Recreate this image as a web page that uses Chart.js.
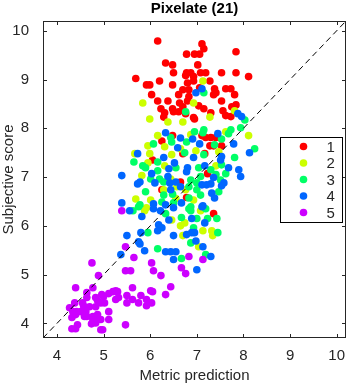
<!DOCTYPE html>
<html>
<head>
<meta charset="utf-8">
<script src="https://cdn.jsdelivr.net/npm/chart.js@4/dist/chart.umd.min.js"></script>
<style>
  html, body { margin: 0; padding: 0; background: #fff; }
  #c { display: block; }
</style>
</head>
<body>
<canvas id="c" width="351" height="385"></canvas>
<script>
// ===== Data =====
const titleText = 'Pixelate (21)';
const xLabel = 'Metric prediction';
const yLabel = 'Subjective score';
const axisMin = 3.7;
const axisMax = 10.2;
const xTicks = [4, 5, 6, 7, 8, 9, 10];
const yTicks = [4, 5, 6, 7, 8, 9, 10];
const seriesNames = ['1', '2', '3', '4', '5'];
const seriesColors = ['#FF0000', '#CCFF00', '#00FF66', '#0066FF', '#CC00FF'];

// [metric prediction, subjective score]
const s1 = [
  [6.16,9.79],[7.11,9.73],[7.15,9.63],[7.84,9.57],[6.78,9.52],[6.95,9.52],[7.06,9.52],[6.33,9.34],
  [6.48,9.30],[7.02,9.30],[6.50,9.14],[6.78,9.14],[6.87,9.14],[7.08,9.14],[7.19,9.14],[7.53,9.14],
  [7.84,9.14],[6.76,9.08],[6.93,9.06],[5.69,9.02],[5.92,8.89],[5.99,8.89],[6.20,8.97],[6.48,8.89],
  [6.80,8.93],[6.93,8.97],[7.28,8.97],[8.11,9.06],[6.70,8.79],[6.83,8.79],[7.06,8.83],[7.38,8.81],
  [7.62,8.81],[7.73,8.81],[6.03,8.69],[6.61,8.69],[6.83,8.65],[7.36,8.69],[7.41,8.73],[7.81,8.69],
  [6.16,8.56],[6.38,8.56],[6.80,8.56],[7.53,8.56],[6.63,8.52],[6.23,8.40],[6.48,8.40],[6.70,8.44],
  [7.04,8.46],[7.15,8.40],[7.56,8.36],[7.75,8.44],[7.84,8.48],[6.31,8.32],[6.50,8.34],[6.61,8.34],
  [6.76,8.30],[6.93,8.22],[7.30,8.32],[7.62,8.26],[7.73,8.24],[6.29,8.23],[6.95,8.19],[6.48,7.85],
  [7.11,7.85],[7.19,7.81],[7.30,7.81],[7.41,7.81],[7.28,7.64],[7.36,7.64],[7.53,7.64],[6.25,7.74],
  [7.17,7.48],[6.70,7.48],[6.05,7.35],[7.23,7.07],[6.65,6.90],[6.25,6.74],[6.78,6.58],[7.36,6.25]
];
const s2 = [
  [5.84,8.52],[5.99,8.19],[7.13,8.97],[6.93,8.52],[7.28,8.23],[7.81,8.36],[6.38,8.13],[6.70,8.13],
  [6.16,7.85],[5.95,7.64],[6.31,7.62],[6.87,7.87],[7.62,7.93],[8.11,7.85],[5.67,7.48],[5.99,7.48],
  [5.95,7.29],[6.46,7.46],[6.31,7.23],[6.65,7.58],[6.98,7.54],[7.47,7.52],[7.41,7.23],[5.82,7.03],
  [6.44,6.96],[6.29,6.74],[6.57,6.80],[6.76,6.74],[6.01,6.53],[5.92,6.37],[6.55,6.56],[6.93,6.53],
  [5.69,6.55],[5.88,6.31],[6.46,6.12],[7.08,6.31],[6.65,6.00],[6.74,6.06],[7.13,5.90],[7.32,5.90],
  [7.34,5.80],[6.70,5.80],[7.04,5.57]
];
const s3 = [
  [7.15,8.73],[6.76,8.34],[8.03,8.17],[7.94,8.01],[6.95,7.93],[7.15,7.97],[7.13,7.91],[6.44,7.81],
  [6.46,7.72],[6.07,7.68],[6.78,7.72],[7.68,7.89],[7.73,7.97],[7.53,7.78],[7.38,7.66],[8.24,7.58],
  [5.65,7.31],[5.84,7.23],[5.90,7.19],[6.16,7.31],[6.55,7.19],[6.16,7.13],[6.01,6.96],[6.20,6.96],
  [6.29,6.90],[5.90,6.70],[6.29,6.63],[6.48,6.65],[5.78,6.43],[6.25,6.49],[6.50,6.47],[6.74,7.50],
  [7.15,7.46],[7.81,7.40],[7.53,7.25],[7.04,7.19],[7.30,7.15],[7.62,7.07],[7.41,7.05],[7.08,7.01],
  [7.51,6.94],[7.00,6.88],[6.87,6.94],[6.83,6.80],[7.00,6.74],[7.08,6.63],[7.47,6.70],[6.83,6.57],
  [6.87,6.39],[5.75,6.39],[6.33,6.25],[5.95,5.86],[6.16,5.53],[6.83,6.35],[6.87,6.31],[7.19,6.35],
  [6.67,6.17],[7.00,6.15],[7.23,6.15],[7.43,6.15],[6.93,5.96],[7.45,5.86],[6.87,5.65],[7.19,5.41],
  [6.67,5.33],[5.63,6.31]
];
const s4 = [
  [6.98,8.73],[7.11,8.81],[7.88,8.30],[7.96,8.24],[6.65,7.80],[6.91,7.78],[7.45,7.89],[7.79,7.68],
  [8.13,7.50],[7.06,7.68],[6.33,7.91],[6.59,7.60],[5.73,7.48],[6.29,7.40],[6.52,7.29],[6.40,7.17],
  [5.39,7.03],[6.03,7.07],[5.78,6.90],[5.73,6.86],[6.38,7.01],[6.10,6.88],[6.42,6.88],[6.55,6.90],
  [6.44,6.74],[5.39,6.47],[6.07,6.45],[6.33,6.43],[6.50,6.37],[6.93,7.40],[7.53,7.42],[7.51,7.35],
  [7.17,7.23],[6.80,7.19],[6.78,7.11],[7.68,7.19],[7.90,7.15],[7.94,7.01],[7.36,6.99],[7.58,6.88],
  [7.53,6.82],[7.11,6.84],[7.21,6.84],[7.30,6.86],[6.65,6.80],[7.32,6.67],[7.38,6.57],[6.67,6.47],
  [7.13,6.41],[5.56,6.31],[5.82,6.19],[6.07,6.35],[6.22,6.31],[6.18,6.02],[6.25,5.96],[6.40,6.12],
  [5.80,5.86],[5.50,5.80],[5.75,5.67],[5.88,5.49],[5.37,5.41],[6.33,5.47],[6.44,5.47],[6.55,5.47],
  [6.50,5.31],[7.11,6.39],[6.89,6.15],[7.17,6.06],[6.95,5.86],[6.89,5.86],[6.78,5.82],[6.98,5.69],
  [7.13,5.57],[7.30,5.37],[7.00,5.10],[6.50,5.80],[6.16,5.90],[5.78,5.63]
];
const s5 = [
  [5.39,6.31],[5.47,5.57],[5.65,5.35],[4.75,5.24],[4.89,4.98],[5.47,5.08],[5.58,5.08],[6.03,5.24],
  [6.07,5.08],[6.23,4.98],[6.44,4.75],[6.33,4.59],[6.83,5.37],[7.13,5.31],[6.67,5.14],[6.76,5.02],
  [4.40,4.73],[4.77,4.73],[4.64,4.63],[5.62,4.73],[5.26,4.67],[5.20,4.65],[5.30,4.65],[6.01,4.67],
  [6.05,4.65],[5.50,4.57],[5.62,4.49],[5.80,4.57],[5.92,4.49],[5.92,4.36],[6.03,4.42],[5.75,4.42],
  [5.50,4.42],[5.26,4.49],[5.32,4.53],[5.11,4.61],[4.96,4.59],[5.00,4.55],[4.83,4.53],[4.87,4.47],
  [5.02,4.42],[4.94,4.42],[4.64,4.53],[4.55,4.42],[4.57,4.36],[4.70,4.34],[4.83,4.34],[4.38,4.42],
  [4.27,4.32],[4.42,4.24],[4.51,4.24],[4.62,4.24],[4.59,4.14],[4.40,4.18],[4.34,4.24],[4.64,4.14],
  [4.77,4.14],[4.87,4.18],[4.89,4.08],[4.77,4.08],[4.83,4.01],[4.74,3.99],[4.94,4.08],[5.11,4.24],
  [5.11,4.08],[4.98,3.87],[4.94,3.87],[4.32,3.89],[4.40,3.89],[4.44,3.97],[5.47,3.97],[4.32,4.12]
];
const allSeries = [s1, s2, s3, s4, s5];

const FONT = '"Liberation Sans", Arial, Helvetica, sans-serif';
const INK = '#262626';

// ===== Box, inner ticks and legend (MATLAB look) =====
const matlabBox = {
  id: 'matlabBox',
  afterDatasetsDraw(chart) {
    const { ctx, chartArea: a, scales: { x, y } } = chart;
    ctx.save();
    ctx.strokeStyle = INK;
    ctx.lineWidth = 1;
    ctx.beginPath();
    xTicks.forEach(v => {
      const px = Math.round(x.getPixelForValue(v)) + 0.5;
      ctx.moveTo(px, a.bottom); ctx.lineTo(px, a.bottom - 4);
      ctx.moveTo(px, a.top); ctx.lineTo(px, a.top + 4);
    });
    yTicks.forEach(v => {
      const py = Math.round(y.getPixelForValue(v)) + 0.5;
      ctx.moveTo(a.left, py); ctx.lineTo(a.left + 4, py);
      ctx.moveTo(a.right, py); ctx.lineTo(a.right - 4, py);
    });
    ctx.stroke();
    ctx.strokeRect(Math.round(a.left) + 0.5, Math.round(a.top) + 0.5,
      Math.round(a.right - a.left) - 1, Math.round(a.bottom - a.top) - 1);
    ctx.restore();
  },
  afterDraw(chart) {
    const { ctx, chartArea: a } = chart;
    const w = 62, h = 85;
    const lx = Math.round(a.right - 4 - w) + 0.5;
    const ly = Math.round((a.top + a.bottom) / 2 - h / 2) + 0.5;
    ctx.save();
    ctx.fillStyle = '#fff';
    ctx.fillRect(lx, ly, w, h);
    ctx.strokeStyle = '#000';
    ctx.lineWidth = 1;
    ctx.strokeRect(lx, ly, w, h);
    ctx.font = '15px ' + FONT;
    ctx.textBaseline = 'middle';
    ctx.textAlign = 'left';
    seriesNames.forEach((name, i) => {
      const cy = ly + 9 + i * 16.5;
      ctx.fillStyle = seriesColors[i];
      ctx.beginPath();
      ctx.arc(lx + 23, cy, 3.8, 0, Math.PI * 2);
      ctx.fill();
      ctx.fillStyle = INK;
      ctx.fillText(name, lx + 46, cy + 1);
    });
    ctx.restore();
  }
};

// ===== Datasets =====
const datasets = allSeries.map((s, i) => ({
  label: seriesNames[i],
  data: s.map(p => ({ x: p[0], y: p[1] })),
  backgroundColor: seriesColors[i],
  borderWidth: 0,
  pointRadius: 3.8,
  order: 10 - i
}));
datasets.push({
  label: 'diag',
  type: 'line',
  data: [{ x: axisMin, y: axisMin }, { x: axisMax, y: axisMax }],
  borderColor: '#000',
  borderWidth: 1,
  borderDash: [6, 4],
  pointRadius: 0,
  fill: false,
  order: 0
});

new Chart(document.getElementById('c').getContext('2d'), {
  type: 'scatter',
  data: { datasets },
  options: {
    responsive: false,
    animation: false,
    events: [],
    layout: { padding: { left: 0, right: 5, top: 0, bottom: 0 } },
    plugins: {
      legend: { display: false },
      tooltip: { enabled: false },
      title: {
        display: true,
        text: titleText,
        fullSize: false,
        color: '#000',
        font: { family: FONT, size: 15, weight: 'bold' },
        padding: { top: 0, bottom: 3 }
      }
    },
    scales: {
      x: {
        type: 'linear',
        min: axisMin,
        max: axisMax,
        afterBuildTicks: s => { s.ticks = xTicks.map(v => ({ value: v })); },
        afterFit: s => { s.height = 47; },
        grid: { display: false },
        border: { display: false },
        ticks: { color: INK, font: { family: FONT, size: 15 }, padding: 1, maxRotation: 0 },
        title: { display: true, text: xLabel, color: INK, font: { family: FONT, size: 15 }, padding: { top: 0, bottom: 0 } }
      },
      y: {
        type: 'linear',
        min: axisMin,
        max: axisMax,
        afterBuildTicks: s => { s.ticks = yTicks.map(v => ({ value: v })); },
        afterFit: s => { s.width = 43; },
        grid: { display: false },
        border: { display: false },
        ticks: { color: INK, font: { family: FONT, size: 15 }, padding: 6 },
        title: { display: true, text: yLabel, color: INK, font: { family: FONT, size: 15 }, padding: { top: 0, bottom: 0 } }
      }
    }
  },
  plugins: [matlabBox]
});
</script>
</body>
</html>
